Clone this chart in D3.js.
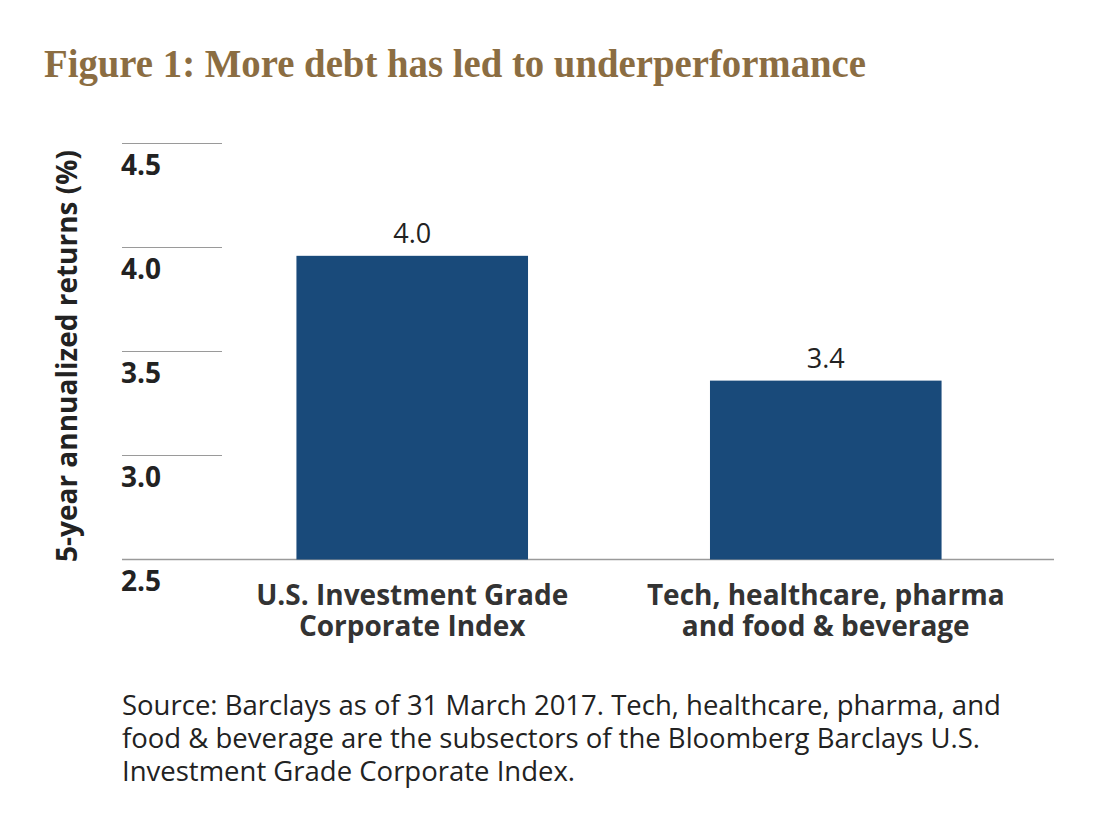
<!DOCTYPE html>
<html>
<head>
<meta charset="utf-8">
<script src="https://cdn.jsdelivr.net/npm/d3@7"></script>
<style>
  body { margin: 0; background: #fff; }
  svg text { font-family: "Open Sans", "Noto Sans", sans-serif; }
</style>
</head>
<body>
<svg id="chart" width="1100" height="832"></svg>
<script>
// chart data
const categories = [
    ["U.S. Investment Grade", "Corporate Index"],
    ["Tech, healthcare, pharma", "and food & beverage"]
];
const returns = [3.96, 3.36];
const yTicks = [2.5, 3.0, 3.5, 4.0, 4.5];

const titleText = "Figure 1: More debt has led to underperformance";
const yLabel = "5-year annualized returns (%)";
const sourceLines = [
    "Source: Barclays as of 31 March 2017. Tech, healthcare, pharma, and",
    "food & beverage are the subsectors of the Bloomberg Barclays U.S.",
    "Investment Grade Corporate Index."
];

const svg = d3.select("#chart");

const y = d3.scaleLinear().domain([2.5, 4.5]).range([559.5, 143.5]);
const x = d3.scaleBand()
    .domain(d3.range(categories.length))
    .range([222, 1016])
    .paddingInner(0.44)
    .paddingOuter(0.18);

// title
svg.append("text")
    .attr("x", 44)
    .attr("y", 76.5)
    .attr("fill", "#8b6d42")
    .style("font-family", "'Liberation Serif', 'DejaVu Serif', serif")
    .style("font-weight", "bold")
    .style("font-size", "39px")
    .attr("textLength", 822)
    .attr("lengthAdjust", "spacingAndGlyphs")
    .text(titleText);

// gridlines (short, left side only)
svg.append("g")
    .selectAll("line")
    .data(yTicks.filter(d => d > 2.5))
    .join("line")
    .attr("x1", 122)
    .attr("x2", 222)
    .attr("y1", d => y(d))
    .attr("y2", d => y(d))
    .attr("stroke", "#9a9a9a")
    .attr("stroke-width", 1);

// baseline
svg.append("line")
    .attr("x1", 122)
    .attr("x2", 1054)
    .attr("y1", y(2.5))
    .attr("y2", y(2.5))
    .attr("stroke", "#9a9a9a")
    .attr("stroke-width", 1.5);

// tick labels sit below each line
svg.append("g")
    .selectAll("text")
    .data(yTicks)
    .join("text")
    .attr("x", 121)
    .attr("y", d => y(d) + 31.5)
    .attr("fill", "#222")
    .style("font-weight", "bold")
    .style("font-size", "28px")
    .text(d => d3.format(".1f")(d));

// y axis title
svg.append("text")
    .attr("transform", "translate(77,356) rotate(-90)")
    .attr("text-anchor", "middle")
    .attr("fill", "#222")
    .style("font-weight", "bold")
    .style("font-size", "28px")
    .text(yLabel);

// bars
svg.append("g")
    .selectAll("rect")
    .data(returns)
    .join("rect")
    .attr("x", (d, i) => x(i))
    .attr("y", d => y(d))
    .attr("width", x.bandwidth())
    .attr("height", d => y(2.5) - y(d))
    .attr("fill", "#194a7a");

// value labels
svg.append("g")
    .selectAll("text")
    .data(returns)
    .join("text")
    .attr("x", (d, i) => x(i) + x.bandwidth() / 2)
    .attr("y", d => y(d) - 13)
    .attr("text-anchor", "middle")
    .attr("fill", "#222")
    .style("font-size", "27px")
    .text(d => d3.format(".1f")(d));

// category labels
const catGroup = svg.append("g");
categories.forEach((lines, i) => {
    catGroup.append("text")
        .attr("x", x(i) + x.bandwidth() / 2)
        .attr("y", 605)
        .attr("text-anchor", "middle")
        .attr("fill", "#333")
        .style("font-weight", "bold")
        .style("font-size", "28px")
        .selectAll("tspan")
        .data(lines)
        .join("tspan")
        .attr("x", x(i) + x.bandwidth() / 2)
        .attr("dy", (d, j) => j === 0 ? 0 : 31)
        .text(d => d);
});

// source note
svg.append("text")
    .attr("x", 122)
    .attr("y", 715)
    .attr("fill", "#222")
    .style("font-size", "27.5px")
    .selectAll("tspan")
    .data(sourceLines)
    .join("tspan")
    .attr("x", 122)
    .attr("dy", (d, i) => i === 0 ? 0 : 33)
    .text(d => d);
</script>
</body>
</html>
